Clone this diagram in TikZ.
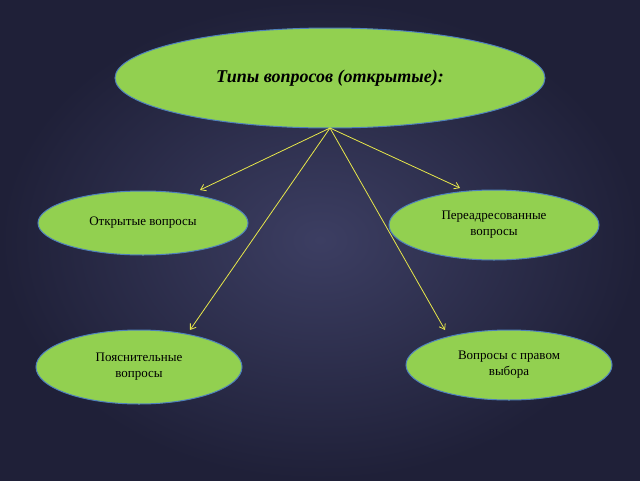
\documentclass[tikz,border=0pt]{standalone}
\usepackage{fontspec}
\setmainfont{Liberation Serif}
\usetikzlibrary{shapes.geometric,arrows.meta}
\definecolor{bgin}{HTML}{3C3E62}
\definecolor{bgout}{HTML}{1F2038}
\definecolor{leaf}{HTML}{92D050}
\definecolor{rim}{HTML}{4F81BD}
\definecolor{lnk}{HTML}{E8E84A}
\tikzset{
  oval/.style={ellipse,fill=leaf,draw=rim,line width=1pt,inner sep=0pt,align=center,font=\fontsize{13}{16}\selectfont},
  link/.style={draw=lnk,line width=0.8pt,-{Straight Barb[length=5pt,width=7pt]}}
}
\begin{document}
\begin{tikzpicture}[x=1pt,y=-1pt]
\shade[inner color=bgin,outer color=bgout] (0,0) rectangle (640,480);
\useasboundingbox (0,0) rectangle (640,480);
\node[oval,minimum width=430pt,minimum height=100pt,font=\bfseries\itshape\fontsize{18}{22}\selectfont] (top) at (330,78) {Типы вопросов (открытые):};
\node[oval,minimum width=210pt,minimum height=64pt] (a) at (143,223) {Открытые вопросы};
\node[oval,minimum width=210pt,minimum height=70pt] (b) at (494,225) {Переадресованные\\вопросы};
\node[oval,minimum width=206pt,minimum height=74pt] (c) at (139,367) {Пояснительные\\вопросы};
\node[oval,minimum width=206pt,minimum height=70pt] (d) at (509,365) {Вопросы с правом\\выбора};
\coordinate (o) at (330,128);
\coordinate (ea) at (200,190);
\coordinate (eb) at (460,188);
\coordinate (ec) at (190,330);
\coordinate (ed) at (445,330);
\draw[link] (o) -- (ea);
\draw[link] (o) -- (eb);
\draw[link] (o) -- (ec);
\draw[link] (o) -- (ed);
\end{tikzpicture}
\end{document}
